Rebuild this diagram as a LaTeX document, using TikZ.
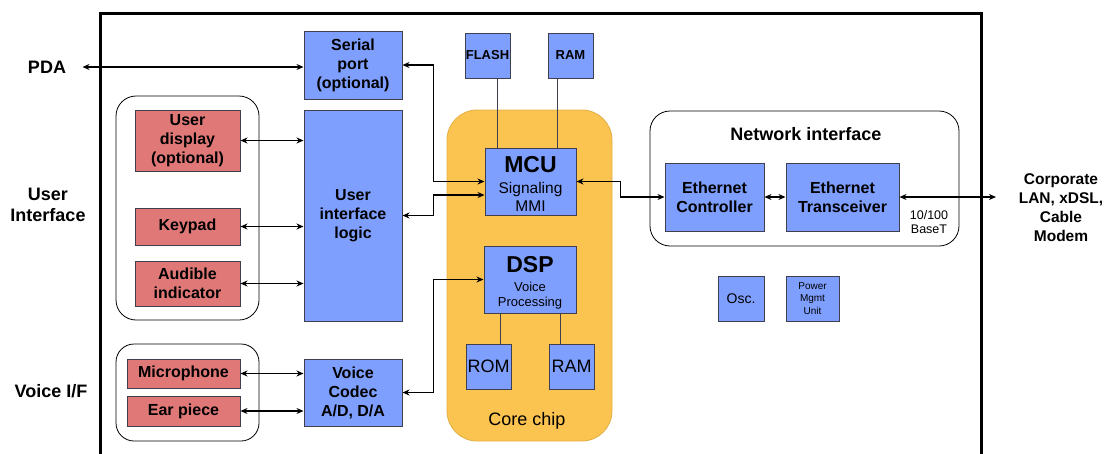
\documentclass[tikz,border=0pt]{standalone}
\usepackage{fontspec}
\setmainfont{Liberation Sans}
\usetikzlibrary{arrows.meta,positioning}

\definecolor{boxblue}{HTML}{7F9FFF}
\definecolor{boxred}{HTML}{E07878}
\definecolor{chiporange}{HTML}{FBC34F}
\definecolor{boxedge}{HTML}{3F3F4F}

\tikzset{
  blk/.style={draw=boxedge, fill=boxblue, line width=1pt, inner sep=0pt, align=center,
    font=\fontsize{16}{19}\selectfont\bfseries},
  redblk/.style={blk, fill=boxred},
  grp/.style={draw, line width=0.8pt, rounded corners=20pt, inner sep=0pt},
  link/.style={<->, line width=1.2pt},
  bus/.style={draw=boxedge, line width=1pt},
  side/.style={align=center, font=\fontsize{18}{21}\selectfont\bfseries},
}

\begin{document}
\begin{tikzpicture}[x=1pt, y=-1pt, >={Stealth[length=7pt,width=6pt]}]
  \useasboundingbox (0,0) rectangle (1105,453);

  % board outline
  \draw[line width=3pt] (100,460) -- (100,13) -- (981,13) -- (981,460);

  % groups
  \node[grp, minimum width=143pt, minimum height=224pt] (uigrp) at (187.5,208) {};
  \node[grp, minimum width=143pt, minimum height=97pt, rounded corners=18pt] (vigrp) at (187.5,392.5) {};
  \node[grp, minimum width=309pt, minimum height=135pt] (netgrp) at (804.5,178.5) {};
  \node[draw=chiporange!90!black, fill=chiporange, line width=0.8pt, rounded corners=30pt,
    minimum width=165pt, minimum height=331pt, inner sep=0pt] (core) at (529.5,275.5) {};

  % left side blocks
  \node[blk, minimum width=98pt, minimum height=68pt] (serial) at (353,65) {Serial\\port\\(optional)};
  \node[blk, minimum width=98pt, minimum height=211pt] (uil) at (353,215.5) {User\\interface\\logic};
  \node[blk, minimum width=98pt, minimum height=67pt] (codec) at (353,392.5) {Voice\\Codec\\A/D, D/A};

  \node[redblk, minimum width=105pt, minimum height=61pt] (udisp) at (187.5,140.5) {User\\display\\(optional)};
  \node[redblk, minimum width=105pt, minimum height=37pt] (keypad) at (187.5,226.5) {Keypad};
  \node[redblk, minimum width=105pt, minimum height=45pt] (audible) at (187.5,283.5) {Audible\\indicator};
  \node[redblk, minimum width=113pt, minimum height=29pt] (mic) at (183.5,373.5) {Microphone};
  \node[redblk, minimum width=113pt, minimum height=30pt] (ear) at (183.5,411) {Ear piece};

  % core chip
  \node[blk, minimum width=45pt, minimum height=45pt, font=\fontsize{13}{15}\selectfont\bfseries] (flash) at (487.5,55.5) {FLASH};
  \node[blk, minimum width=45pt, minimum height=45pt, font=\fontsize{13}{15}\selectfont\bfseries, right=37pt of flash] (ram) {RAM};
  \node[blk, minimum width=91pt, minimum height=67pt, font=\fontsize{15.5}{18}\selectfont] (mcu) at (530.5,181.5)
    {{\fontsize{23}{22}\selectfont\bfseries\rule{0pt}{20pt}MCU}\\[3pt]Signaling\\MMI};
  \node[blk, minimum width=92pt, minimum height=67pt, font=\fontsize{13}{15.5}\selectfont] (dsp) at (530,279.5)
    {{\fontsize{23}{24}\selectfont\bfseries\rule{0pt}{23.5pt}DSP}\\[3pt]Voice\\Processing};
  \node[blk, minimum width=45pt, minimum height=45pt, font=\fontsize{18}{20}\selectfont] (rom) at (488.5,366.5) {ROM};
  \node[blk, minimum width=45pt, minimum height=45pt, font=\fontsize{18}{20}\selectfont, right=37pt of rom] (dram) {RAM};
  \node[font=\fontsize{18}{20}\selectfont] (corelbl) at (527,421) {Core chip};

  % network side
  \node[font=\fontsize{18}{20}\selectfont\bfseries] (nettitle) at (806,134) {Network interface};
  \node[blk, minimum width=99pt, minimum height=68pt] (ectl) at (714.5,197) {Ethernet\\Controller};
  \node[blk, minimum width=113pt, minimum height=68pt, right=21pt of ectl] (etrx) {Ethernet\\Transceiver};
  \node[align=center, font=\fontsize{12.5}{14}\selectfont] (baset) at (929,222) {10/100\\BaseT};
  \node[blk, minimum width=46pt, minimum height=45pt, font=\fontsize{14}{16}\selectfont] (osc) at (741,298.5) {Osc.};
  \node[blk, minimum width=53pt, minimum height=45pt, font=\fontsize{10}{12.5}\selectfont, right=21pt of osc] (pmu) {Power\\Mgmt\\Unit};

  % outside labels
  \node[side] (pda) at (47,67) {PDA};
  \node[side] (uilbl) at (48,205) {User\\Interface};
  \node[side] (vilbl) at (51,391) {Voice I/F};
  \node[align=center, font=\fontsize{15.5}{19}\selectfont\bfseries] (corp) at (1061,207.5) {Corporate\\LAN, xDSL,\\Cable\\Modem};
  \coordinate (lan) at (996,197);

  % connections
  \draw[link] ([xshift=13pt]pda.east) -- (pda.east -| serial.west);
  \draw[link] (serial.east) -- ++(31,0) |- (mcu.west);
  \draw[link] (uil.east) -- ++(31,0) |- ([yshift=-13.5pt]mcu.west);
  \draw[link] (codec.east) -- ++(31,0) |- (dsp.west);
  \draw[link] (udisp.east) -- (udisp.east -| uil.west);
  \draw[link] (keypad.east) -- (keypad.east -| uil.west);
  \draw[link] (audible.east) -- (audible.east -| uil.west);
  \draw[link] (mic.east) -- (mic.east -| codec.west);
  \draw[link] (ear.east) -- (ear.east -| codec.west);
  \draw[link] (mcu.east) -- ++(44,0) |- (ectl.west);
  \draw[link] (ectl) -- (etrx);
  \draw[link] (etrx.east) -- (lan);

  \draw[bus] ([xshift=9.5pt]flash.south) -- ([xshift=9.5pt]flash.south |- mcu.north);
  \draw[bus] ([xshift=-13.5pt]ram.south) -- ([xshift=-13.5pt]ram.south |- mcu.north);
  \draw[bus] ([xshift=11.5pt]rom.north) -- ([xshift=11.5pt]rom.north |- dsp.south);
  \draw[bus] ([xshift=-11.5pt]dram.north) -- ([xshift=-11.5pt]dram.north |- dsp.south);
\end{tikzpicture}
\end{document}
